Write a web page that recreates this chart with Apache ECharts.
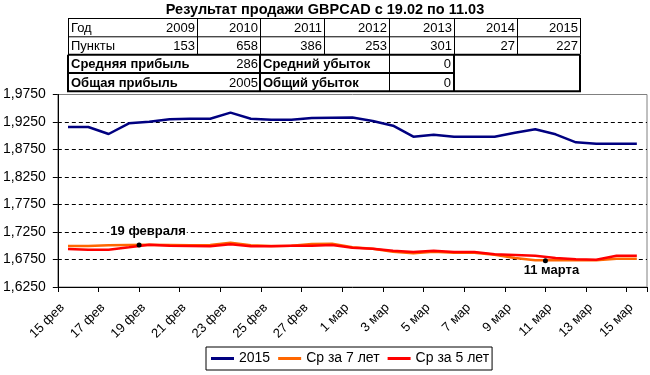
<!DOCTYPE html>
<html>
<head>
<meta charset="utf-8">
<script src="https://cdn.jsdelivr.net/npm/echarts@6/dist/echarts.min.js"></script>
<style>
html,body{margin:0;padding:0;background:#fff;}
#chart{width:650px;height:375px;}
</style>
</head>
<body>
<div id="chart"></div>
<script>
// ---------- data ----------
const chartTitle = 'Результат продажи GBPCAD с 19.02 по 11.03';
const categories = ['15 фев','16 фев','17 фев','18 фев','19 фев','20 фев','21 фев','22 фев','23 фев','24 фев','25 фев','26 фев','27 фев','28 фев','1 мар','2 мар','3 мар','4 мар','5 мар','6 мар','7 мар','8 мар','9 мар','10 мар','11 мар','12 мар','13 мар','14 мар','15 мар'];
const seriesNames = ['2015', 'Ср за 7 лет', 'Ср за 5 лет'];
const values2015 = [1.9159,1.9160,1.9032,1.9226,1.9256,1.9300,1.9310,1.9310,1.9420,1.9310,1.9292,1.9290,1.9323,1.9329,1.9330,1.9268,1.9183,1.8983,1.9020,1.8983,1.8983,1.8983,1.9056,1.9117,1.9026,1.8880,1.8856,1.8856,1.8856];
const valuesAvg7 = [1.6995,1.6995,1.7008,1.7014,1.7020,1.7014,1.7008,1.7014,1.7056,1.7008,1.6995,1.7002,1.7032,1.7038,1.6971,1.6947,1.6892,1.6862,1.6892,1.6874,1.6874,1.6838,1.6777,1.6735,1.6735,1.6741,1.6735,1.6765,1.6765];
const valuesAvg5 = [1.6941,1.6929,1.6929,1.6971,1.7020,1.7002,1.6996,1.6990,1.7026,1.6990,1.6990,1.7002,1.7000,1.7014,1.6965,1.6947,1.6911,1.6886,1.6911,1.6886,1.6886,1.6844,1.6832,1.6820,1.6777,1.6753,1.6747,1.6820,1.6820];
const yTickLabels = ['1,6250','1,6750','1,7250','1,7750','1,8250','1,8750','1,9250','1,9750'];
const yMin = 1.625, yMax = 1.975;
// annotation points: position on day-boundary scale (0 = start of 15 фев), value, text
const annotationX = [4, 24];
const annotationY = [1.7014, 1.6728];
const annotationText = ['19 февраля', '11 марта'];
// table
const tableYears = [2009, 2010, 2011, 2012, 2013, 2014, 2015];
const tablePoints = [153, 658, 386, 253, 301, 27, 227];
const avgProfit = 286, totalProfit = 2005, avgLoss = 0, totalLoss = 0;

// ---------- layout / style ----------
const FONT = '"Liberation Sans", Arial, sans-serif';
const annotationOffsets = [[9, -14], [6, 10]];
const colX = [68, 197, 260, 324, 389, 454, 517, 580];
const rowY = [18, 36.3, 54.7, 73, 91.3];

const graphics = [];
function hline(x1, x2, y, w) { graphics.push({type:'line', silent:true, shape:{x1:x1, y1:y, x2:x2, y2:y}, style:{stroke:'#000', lineWidth:w}}); }
function vline(x, y1, y2, w) { graphics.push({type:'line', silent:true, shape:{x1:x, y1:y1, x2:x, y2:y2}, style:{stroke:'#000', lineWidth:w}}); }
function txt(x, y, s, align, bold) {
  graphics.push({type:'text', silent:true, x:x, y:y, style:{text:String(s), fill:'#000', fontSize:13, fontFamily:FONT, fontWeight: bold ? 'bold' : 'normal', align:align, textAlign:align, verticalAlign:'middle', textVerticalAlign:'middle'}});
}
// thin part (rows 1-2)
hline(colX[0], colX[7], rowY[0] + 0.5, 1);
hline(colX[0], colX[7], rowY[1] + 0.5, 1);
colX.forEach(function (x) { vline(x + 0.5, rowY[0], rowY[2], 1); });
// thick part (rows 3-4)
hline(colX[0], colX[7], rowY[2], 2);
hline(colX[0], colX[5], rowY[3], 2);
hline(colX[0] - 1, colX[7] + 1, rowY[4], 2);
[colX[0], colX[2], colX[5], colX[7]].forEach(function (x) { vline(x, rowY[2], rowY[4], 2); });
vline(colX[4] + 0.5, rowY[2], rowY[4], 1);
// texts
const r1 = (rowY[0] + rowY[1]) / 2, r2 = (rowY[1] + rowY[2]) / 2, r3 = (rowY[2] + rowY[3]) / 2, r4 = (rowY[3] + rowY[4]) / 2;
txt(colX[0] + 3, r1 + 1, 'Год', 'left', false);
txt(colX[0] + 3, r2 + 1, 'Пункты', 'left', false);
tableYears.forEach(function (y, i) { txt(colX[i + 1] - 2, r1 + 1, y, 'right', false); });
tablePoints.forEach(function (p, i) { txt(colX[i + 1] - 2, r2 + 1, p, 'right', false); });
txt(colX[0] + 3, r3 + 1, 'Средняя прибыль', 'left', true);
txt(colX[0] + 3, r4 + 1, 'Общая прибыль', 'left', true);
txt(colX[2] - 2, r3 + 1, avgProfit, 'right', false);
txt(colX[2] - 2, r4 + 1, totalProfit, 'right', false);
txt(colX[2] + 3, r3 + 1, 'Средний убыток', 'left', true);
txt(colX[2] + 3, r4 + 1, 'Общий убыток', 'left', true);
txt(colX[5] - 3, r3 + 1, avgLoss, 'right', false);
txt(colX[5] - 3, r4 + 1, totalLoss, 'right', false);

const chart = echarts.init(document.getElementById('chart'), null, {renderer:'canvas'});
const lineColors = ['#000080', '#FF6600', '#FF0000'];
const lineData = [values2015, valuesAvg7, valuesAvg5];

const series = lineData.map(function (d, i) {
  return {
    name: seriesNames[i], type:'line', xAxisIndex:0, yAxisIndex:1,
    data: d, symbol:'none', showSymbol:false, smooth:false, animation:false,
    lineStyle:{color: lineColors[i], width:2.5}, itemStyle:{color: lineColors[i]}, z: 3 + i
  };
});
const labelBase = {show:true, position:'inside', color:'#000', opacity:1, fontSize:13, fontWeight:'bold', fontFamily:FONT, backgroundColor:'#fff', padding:[0,1]};
series.push({
  type:'scatter', xAxisIndex:1, yAxisIndex:1, symbolSize:5, animation:false, z:10,
  itemStyle:{color:'#000', opacity:1},
  data: annotationX.map(function (x, i) {
    return {value:[x, annotationY[i]], label:Object.assign({}, labelBase, {offset: annotationOffsets[i], formatter: annotationText[i]})};
  }),
  label: labelBase
});

chart.setOption({
  animation:false,
  backgroundColor:'#fff',
  textStyle:{fontFamily:FONT},
  title:{text: chartTitle, left:'center', top:2, padding:0,
    textStyle:{fontSize:14.5, fontWeight:'bold', color:'#000', fontFamily:FONT}},
  grid:{left:55, right:3, top:94.5, bottom:88, show:true, borderColor:'#808080', borderWidth:1, backgroundColor:'#fff', containLabel:false},
  legend:{data: seriesNames.map(function (n) { return {name:n, icon:'rect'}; }),
    left:206, top:347, itemWidth:23, itemHeight:3, itemGap:8,
    padding:[4,3,4,5], borderColor:'#000', borderWidth:1, backgroundColor:'#fff',
    textStyle:{fontSize:14, color:'#000', fontFamily:FONT, lineHeight:15}},
  xAxis:[{
    type:'category', data: categories, boundaryGap:true,
    axisLine:{show:true, lineStyle:{color:'#000', width:1}},
    axisTick:{show:true, interval:1, length:5, inside:false, lineStyle:{color:'#000'}},
    axisLabel:{interval:1, rotate:45, fontSize:13, color:'#000', fontFamily:FONT, margin:13, padding:[0,8,0,0]},
    splitLine:{show:false}
  },{
    type:'value', min:0, max: categories.length, show:false
  }],
  yAxis:[{
    type:'value', min:0, max: yTickLabels.length - 1, interval:1,
    axisLine:{show:true, lineStyle:{color:'#000', width:1}},
    axisTick:{show:true, length:5, inside:false, lineStyle:{color:'#000'}},
    axisLabel:{fontSize:14, color:'#000', fontFamily:FONT, margin:12, formatter:function (v) { return yTickLabels[Math.round(v)]; }},
    splitLine:{show:true, showMinLine:false, showMaxLine:false, lineStyle:{color:'#000', type:[4,3], width:1}}
  },{
    type:'value', min:yMin, max:yMax, show:false, splitLine:{show:false}
  }],
  series: series,
  graphic: graphics
});
</script>
</body>
</html>
